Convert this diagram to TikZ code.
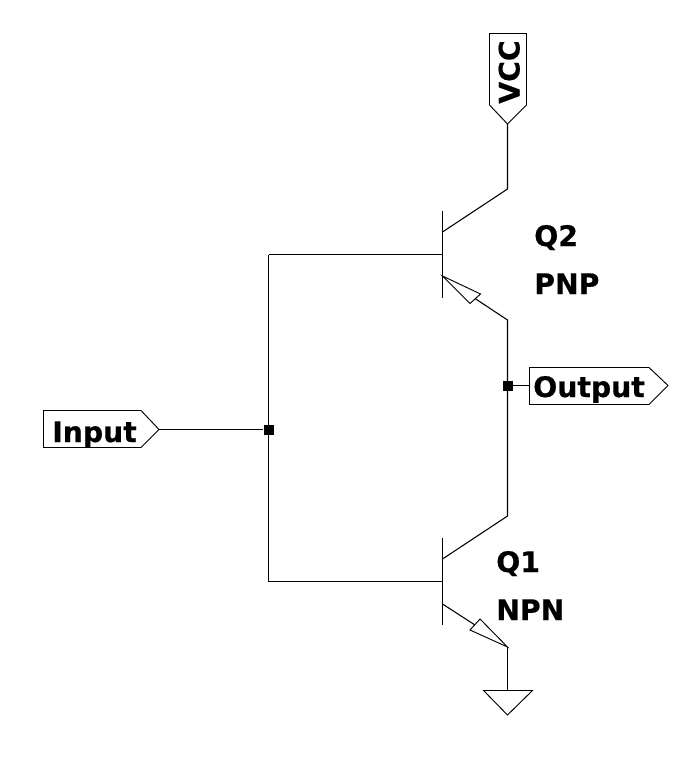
\documentclass[tikz,border=0pt]{standalone}
\usepackage{fontspec}
\setmainfont[BoldFeatures={FakeBold=0.6}]{DejaVu Sans}
\tikzset{
  wire/.style={draw=black,line width=0.8pt,line join=miter},
  thin outline/.style={draw=black,line width=0.7pt,fill=none,line join=miter},
  junction/.style={rectangle,fill=black,draw=none,minimum size=7.5pt,inner sep=0pt},
  label text/.style={font=\bfseries\fontsize{21.2pt}{21.2pt}\selectfont,inner sep=0pt,text=black,anchor=base west},
}
\begin{document}
\begin{tikzpicture}[x=0.75pt,y=-0.75pt]
\useasboundingbox (0,0) rectangle (686,777);
% key points
\coordinate (vcctip) at (507.5,124);
\coordinate (q2c) at (507.5,189);
\coordinate (q2cb) at (442.5,232);
\coordinate (q2bt) at (442.5,211);
\coordinate (q2bb) at (442.5,298);
\coordinate (q2b) at (442.5,254.5);
\coordinate (q2eb) at (442.5,276);
\coordinate (q2am) at (475,298.5);
\coordinate (q2e) at (507.5,320);
\coordinate (q1c) at (507.5,516);
\coordinate (q1cb) at (442.5,559);
\coordinate (q1bt) at (442.5,538);
\coordinate (q1bb) at (442.5,625);
\coordinate (q1b) at (442.5,581.5);
\coordinate (q1eb) at (442.5,604);
\coordinate (q1am) at (475,625);
\coordinate (q1e) at (507.5,647);
\coordinate (gndtop) at (507.5,690);
\coordinate (outbox) at (529.5,385.5);
\coordinate (intip) at (159,429.5);
\node[junction] (jout) at (507.5,385.5) {};
\node[junction] (jin) at (268.5,429.5) {};
\coordinate (busT) at (268.5,254.5);
\coordinate (busB) at (268.5,581.5);
% wires
\draw[wire] (vcctip) -- (q2c) -- (q2cb);
\draw[wire] (q2bt) -- (q2bb);
\draw[wire] (busT) -- (q2b);
\draw[wire] (busT) -- (busB) -- (q1b);
\draw[wire] (intip) -- (jin);
\draw[wire] (q2am) -- (q2e) -- (q1c) -- (q1cb);
\draw[wire] (jout) -- (outbox);
\draw[wire] (q1bt) -- (q1bb);
\draw[wire] (q1eb) -- (q1am);
\draw[wire] (q1e) -- (gndtop);
% arrows
\draw[thin outline] (q2eb) -- (480.5,294) -- (470,303.5) -- cycle;
\draw[thin outline] (q1e) -- (480,619) -- (470,630) -- cycle;
% ground
\draw[thin outline] (483.5,690.5) -- (532.5,690.5) -- (507.5,715) -- cycle;
% flags
\draw[thin outline] (489.5,33.5) -- (526.5,33.5) -- (526.5,105) -- (vcctip) -- (489.5,105) -- cycle;
\draw[thin outline] (529.5,367.5) -- (649,367.5) -- (668,385.5) -- (649,404.5) -- (529.5,404.5) -- cycle;
\draw[thin outline] (43.5,410.5) -- (141,410.5) -- (intip) -- (141,447.5) -- (43.5,447.5) -- cycle;
% labels
\node[label text,rotate=90] (vcc) at (519.5,104) {VCC};
\node[label text] (out) at (533,397) {Output};
\node[label text] (inp) at (52,442) {Input};
\node[label text] (q2) at (534,246) {Q2};
\node[label text] (pnp) at (534,294) {PNP};
\node[label text] (q1) at (496,572) {Q1};
\node[label text] (npn) at (496,620) {NPN};
\end{tikzpicture}
\end{document}
